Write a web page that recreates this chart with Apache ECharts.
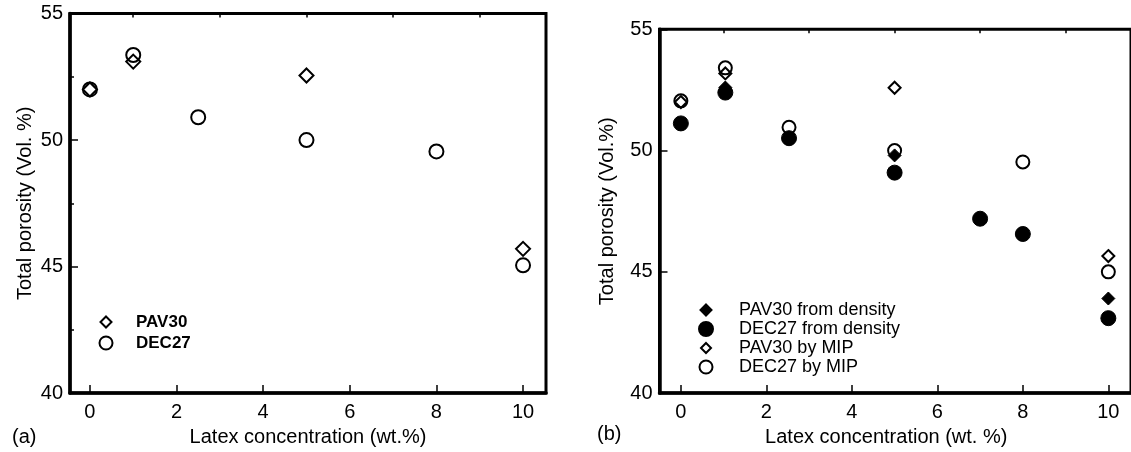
<!DOCTYPE html>
<html>
<head>
<meta charset="utf-8">
<script src="https://cdn.jsdelivr.net/npm/echarts@6/dist/echarts.min.js"></script>
<style>
html,body{margin:0;padding:0;background:#fff;}
#chart{width:1131px;height:452px;}
</style>
</head>
<body>
<div id="chart"></div>
<script>
// ---- Data ----
// Panel (a)
const aPAV30_x = [0, 1, 5, 10];
const aPAV30_y = [52.0, 53.1, 52.55, 45.7];
const aDEC27_x = [0, 1, 2.5, 5, 8, 10];
const aDEC27_y = [52.0, 53.36, 50.9, 50.0, 49.55, 45.05];
// Panel (b)
const bPAV30dens_x = [1.04, 5, 10];
const bPAV30dens_y = [52.6, 49.8, 43.9];
const bDEC27dens_x = [0, 1.04, 2.53, 5, 7, 8, 10];
const bDEC27dens_y = [51.12, 52.39, 50.51, 49.09, 47.19, 46.56, 43.09];
const bPAV30mip_x = [0, 1.04, 5, 10];
const bPAV30mip_y = [52.0, 53.18, 52.59, 45.65];
const bDEC27mip_x = [0, 1.04, 2.53, 5, 8, 10];
const bDEC27mip_y = [52.05, 53.41, 50.96, 50.0, 49.53, 45.0];
// Ticks
const xMajorTicks = [0, 2, 4, 6, 8, 10];
const xMinorTicks = [1, 3, 5, 7, 9];
const seriesNamesA = ['PAV30', 'DEC27'];
const seriesNamesB = ['PAV30 from density', 'DEC27 from density', 'PAV30 by MIP', 'DEC27 by MIP'];

const pairs = (xs, ys) => xs.map((x, i) => [x, ys[i]]);

const FONT = '"Liberation Sans", Arial, Helvetica, sans-serif';
const BLACK = '#000';
const CLEAR = 'rgba(255,255,255,0)';

function xAxisMajor(gridIndex, min, max, name, padRight) {
  return {
    type: 'value', gridIndex, min, max,
    name, nameLocation: 'middle', nameGap: 31,
    nameTextStyle: { fontFamily: FONT, fontSize: 20, color: BLACK, padding: [0, padRight || 0, 0, 0] },
    axisLine: { show: true, onZero: false, lineStyle: { color: BLACK, width: 3.5 } },
    axisTick: { show: true, inside: true, length: 8, customValues: xMajorTicks, lineStyle: { color: BLACK, width: 1.5 } },
    axisLabel: { show: true, margin: 9, customValues: xMajorTicks, fontFamily: FONT, fontSize: 20, color: BLACK },
    splitLine: { show: false }
  };
}
function xAxisMinor(gridIndex, min, max) {
  return {
    type: 'value', gridIndex, min, max,
    axisLine: { show: false },
    axisTick: { show: true, inside: true, length: 4, customValues: xMinorTicks, lineStyle: { color: BLACK, width: 1.5 } },
    axisLabel: { show: false },
    splitLine: { show: false }
  };
}
function yAxis(gridIndex, name, gap, minor) {
  return {
    type: 'value', gridIndex, min: 40, max: 55, interval: 5,
    name, nameLocation: 'middle', nameGap: gap,
    nameTextStyle: { fontFamily: FONT, fontSize: 20, color: BLACK },
    axisLine: { show: true, onZero: false, lineStyle: { color: BLACK, width: 3.5 } },
    axisTick: { show: true, inside: true, length: 8, lineStyle: { color: BLACK, width: 1.5 } },
    minorTick: { show: minor, splitNumber: 2, length: 4, lineStyle: { color: BLACK, width: 1.5 } },
    axisLabel: { margin: 7, fontFamily: FONT, fontSize: 20, color: BLACK },
    splitLine: { show: false }
  };
}

// icon centre (cx, cy), icon size s, text start tx
function legendItem(name, cx, cy, s, tx, bold, fontSize) {
  return {
    data: [name], left: cx - s / 2, top: cy - fontSize / 2 - 1, orient: 'vertical',
    itemWidth: s, itemHeight: s,
    selectedMode: false, padding: 0,
    textStyle: { fontFamily: FONT, fontSize, color: BLACK, fontWeight: bold ? 'bold' : 'normal',
                 padding: [0, 0, 0, tx - (cx + s / 2) - 5] }
  };
}

const filledStyle = { color: BLACK, borderColor: BLACK, borderWidth: 1, opacity: 1 };
const openStyle = { color: CLEAR, borderColor: BLACK, borderWidth: 2, opacity: 1 };

const option = {
  backgroundColor: '#fff',
  animation: false,
  grid: [
    { left: 70, top: 13.5, right: 585, bottom: 57, show: true, borderColor: BLACK, borderWidth: 3, backgroundColor: 'transparent' },
    { left: 659.5, top: 29.3, right: -4, bottom: 57, show: true, borderColor: BLACK, borderWidth: 3, backgroundColor: 'transparent' }
  ],
  xAxis: [
    xAxisMajor(0, -0.46, 10.53, 'Latex concentration (wt.%)', 0),
    xAxisMinor(0, -0.46, 10.53),
    xAxisMajor(1, -0.5, 10.53, 'Latex concentration (wt. %)', 18),
    xAxisMinor(1, -0.5, 10.53)
  ],
  yAxis: [
    yAxis(0, 'Total porosity (Vol. %)', 35, true),
    yAxis(1, 'Total porosity (Vol.%)', 42, false)
  ],
  legend: [
    legendItem(seriesNamesA[0], 105, 323, 11, 135, true, 17),
    legendItem(seriesNamesA[1], 105, 344, 13, 135, true, 17),
    legendItem(seriesNamesB[0], 705, 311, 11, 738, false, 18),
    legendItem(seriesNamesB[1], 705, 330, 14, 738, false, 18),
    legendItem(seriesNamesB[2], 705, 349, 10, 738, false, 18),
    legendItem(seriesNamesB[3], 705, 368, 13, 738, false, 18)
  ],
  series: [
    { name: seriesNamesA[1], type: 'scatter', xAxisIndex: 0, yAxisIndex: 0, symbol: 'circle', symbolSize: 14,
      itemStyle: openStyle, data: pairs(aDEC27_x, aDEC27_y) },
    { name: seriesNamesA[0], type: 'scatter', xAxisIndex: 0, yAxisIndex: 0, symbol: 'diamond', symbolSize: 14,
      itemStyle: openStyle, data: pairs(aPAV30_x, aPAV30_y) },

    { name: seriesNamesB[2], type: 'scatter', xAxisIndex: 2, yAxisIndex: 1, symbol: 'diamond', symbolSize: 12,
      itemStyle: openStyle, data: pairs(bPAV30mip_x, bPAV30mip_y) },
    { name: seriesNamesB[3], type: 'scatter', xAxisIndex: 2, yAxisIndex: 1, symbol: 'circle', symbolSize: 13,
      itemStyle: openStyle, data: pairs(bDEC27mip_x, bDEC27mip_y) },
    { name: seriesNamesB[1], type: 'scatter', xAxisIndex: 2, yAxisIndex: 1, symbol: 'circle', symbolSize: 15,
      itemStyle: filledStyle, data: pairs(bDEC27dens_x, bDEC27dens_y) },
    { name: seriesNamesB[0], type: 'scatter', xAxisIndex: 2, yAxisIndex: 1, symbol: 'diamond', symbolSize: 13,
      itemStyle: filledStyle, data: pairs(bPAV30dens_x, bPAV30dens_y) }
  ],
  graphic: [
    { type: 'text', left: 12, top: 427, style: { text: '(a)', fontFamily: FONT, fontSize: 20, fill: BLACK } },
    { type: 'text', left: 597, top: 424, style: { text: '(b)', fontFamily: FONT, fontSize: 20, fill: BLACK } }
  ]
};

const chart = echarts.init(document.getElementById('chart'), null, { renderer: 'canvas' });
chart.setOption(option);
</script>
</body>
</html>
